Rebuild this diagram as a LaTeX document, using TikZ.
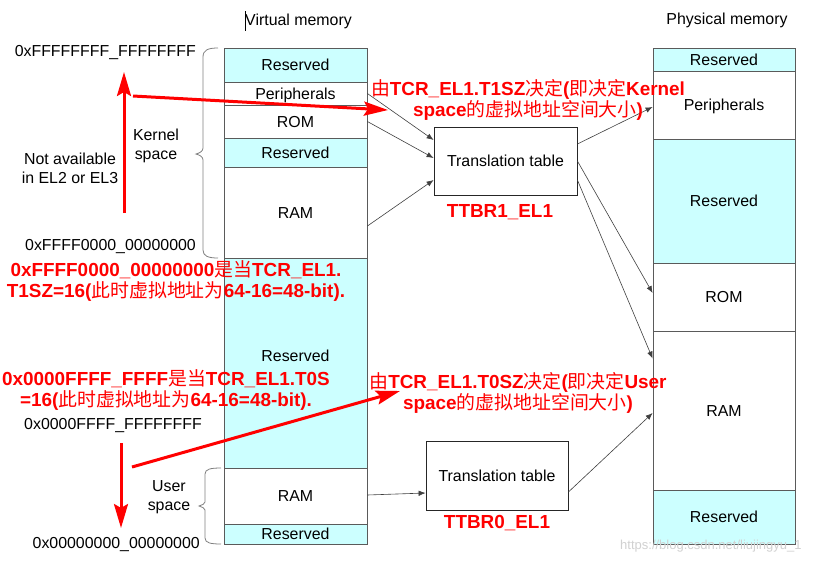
\documentclass[tikz,border=0pt]{standalone}
\usepackage{fontspec}
\setmainfont{Liberation Sans}
\newfontfamily\cjk{Noto Sans CJK SC}
\usetikzlibrary{arrows.meta,calc}
\newcommand\zh[1]{{\cjk\mdseries #1}}
\newcommand\blkfont{\fontsize{15.9}{18.8}\selectfont}
\newcommand\redfont{\fontsize{18.9}{21}\selectfont\bfseries}
\definecolor{memcyan}{HTML}{CCFFFF}
\definecolor{memline}{HTML}{5A5A5A}
\definecolor{redtx}{HTML}{FF0000}
\begin{document}
\begin{tikzpicture}[x=1pt,y=-1pt,
  mem/.style={draw=memline, line width=0.8pt, fill=white, inner sep=0pt,
    font=\blkfont, text height=11.4pt, text depth=0pt},
  vmem/.style={mem, minimum width=143pt},
  pmem/.style={mem, minimum width=142pt},
  cy/.style={fill=memcyan},
  lbl/.style={font=\blkfont, inner sep=0pt, text height=11.4pt, text depth=0pt},
  mlbl/.style={font=\blkfont, inner sep=0pt, align=center},
  ttbox/.style={draw=black!85, line width=0.8pt, fill=white, inner sep=0pt,
    font=\blkfont, text height=11.4pt, text depth=0pt},
  conn/.style={draw=black!75, line width=0.6pt, -{Latex[length=7pt,width=5.5pt]}},
  brc/.style={draw=black!50, line width=0.8pt},
  redtxt/.style={text=redtx, font=\redfont, align=center, inner sep=0pt},
  redarrow/.style={draw=redtx, line width=3pt, -{Stealth[length=24pt,width=14pt,inset=4pt]}}
]
\fill[white] (0,0) rectangle (814,566);
\useasboundingbox (0,0) rectangle (814,566);

% titles
\draw[black, line width=0.8pt] (245,11) -- (245,31);
\node[lbl] (vtitle) at (298.5,20) {Virtual memory};
\node[lbl] (ptitle) at (727,19) {Physical memory};

% virtual memory
\node[vmem,cy,minimum height=34pt]  (v1) at (295.5,65)    {Reserved};
\node[vmem,minimum height=23pt]     (v2) at (295.5,93.5)  {Peripherals};
\node[vmem,minimum height=33pt]     (v3) at (295.5,121.5) {ROM};
\node[vmem,cy,minimum height=29pt]  (v4) at (295.5,152.5) {Reserved};
\node[vmem,minimum height=91pt]     (v5) at (295.5,212.5) {RAM};
\node[vmem,cy,minimum height=210pt] (v6) at (295.5,363)   {};
\node[lbl] (v6t) at (295.5,356) {Reserved};
\node[vmem,minimum height=56pt]     (v7) at (295.5,496)   {RAM};
\node[vmem,cy,minimum height=20pt]  (v8) at (295.5,534)   {Reserved};

% physical memory
\node[pmem,cy,minimum height=23pt]  (p1) at (724,59.5)  {Reserved};
\node[pmem,minimum height=68pt]     (p2) at (724,105)   {Peripherals};
\node[pmem,cy,minimum height=124pt] (p3) at (724,201)   {Reserved};
\node[pmem,minimum height=68pt]     (p4) at (724,297)   {ROM};
\node[pmem,minimum height=159pt]    (p5) at (724,410.5) {RAM};
\node[pmem,cy,minimum height=54pt]  (p6) at (724,517)   {Reserved};

% translation tables
\node[ttbox,minimum width=143pt,minimum height=68pt] (tt1) at (505.5,161)   {Translation table};
\node[ttbox,minimum width=142pt,minimum height=69pt] (tt2) at (497,475.5)   {Translation table};

% connectors
\draw[conn] (v2.east) -- ($(tt1.west)+(0,-21)$);
\draw[conn] (v3.east) -- ($(tt1.west)+(0,-3)$);
\draw[conn] ($(v5.east)+(0,13.5)$) -- ($(tt1.west)+(0,19)$);
\draw[conn] ($(tt1.east)+(0,-17)$) -- ($(p2.west)+(0,2)$);
\draw[conn] (tt1.east) -- ($(p4.west)+(0,-4)$);
\draw[conn] ($(tt1.east)+(0,19)$) -- ($(p5.west)+(0,-52)$);
\draw[conn] ($(v7.east)+(0,-1)$) -- ($(tt2.west)+(0,17.5)$);
\draw[conn] ($(tt2.east)+(0,16.5)$) -- ($(p5.west)+(0,2.5)$);

% braces
\draw[brc] (218,48) .. controls (208,48) and (203,50) .. (203,57) -- (203,148)
  .. controls (203,151) and (200,153) .. (196,154)
  .. controls (200,155) and (203,157) .. (203,160) -- (203,250)
  .. controls (203,256) and (208,258) .. (218,258);
\draw[brc] (221,468) .. controls (211,468) and (205,469) .. (205,474) -- (205,502)
  .. controls (205,504) and (202,505) .. (199,506)
  .. controls (202,507) and (205,508) .. (205,510) -- (205,538)
  .. controls (205,543) and (211,544) .. (221,544);

% black labels
\node[lbl,anchor=east] (a1) at (196,51)  {0xFFFFFFFF\_FFFFFFFF};
\node[lbl,anchor=east] (a2) at (196,245) {0xFFFF0000\_00000000};
\node[lbl,anchor=east] (a3) at (202,424) {0x0000FFFF\_FFFFFFFF};
\node[lbl,anchor=east] (a4) at (200,543) {0x00000000\_00000000};
\node[mlbl] (na) at (70,168)  {Not available\\in EL2 or EL3};
\node[mlbl] (ks) at (156,146) {Kernel\\space};
\node[mlbl] (us) at (169,497) {User\\space};

% red labels
\node[redtxt] (ttbr1) at (500,212) {TTBR1\_EL1};
\node[redtxt] (ttbr0) at (497,523) {TTBR0\_EL1};
\node[redtxt] (r1) at (528,99.5) {\zh{由}TCR\_EL1.T1SZ\zh{决定}(\zh{即决定}Kernel\\space\zh{的虚拟地址空间大小})};
\node[redtxt] (r2) at (176,281.5) {0xFFFF0000\_00000000\zh{是当}TCR\_EL1.\\T1SZ=16(\zh{此时虚拟地址为}64-16=48-bit).};
\node[redtxt] (r3) at (166,390.5) {0x0000FFFF\_FFFF\zh{是当}TCR\_EL1.T0S\\=16(\zh{此时虚拟地址为}64-16=48-bit).};
\node[redtxt] (r4) at (518,393) {\zh{由}TCR\_EL1.T0SZ\zh{决定}(\zh{即决定}User\\space\zh{的虚拟地址空间大小})};

% red arrows
\coordinate (ka0) at (124,213); \coordinate (ka1) at (124,72);
\coordinate (kb0) at (133,96);  \coordinate (kb1) at (388,110);
\coordinate (ua0) at (121,443); \coordinate (ua1) at (121,528);
\coordinate (ub0) at (132,467); \coordinate (ub1) at (400,391);
\draw[redarrow] (ka0) -- (ka1);
\draw[redarrow] (kb0) -- (kb1);
\draw[redarrow] (ua0) -- (ua1);
\draw[redarrow] (ub0) -- (ub1);

% watermark
\node[anchor=west, text=black!18, font=\fontsize{13}{15}\selectfont, inner sep=0pt] (wm) at (620,546) {https://blog.csdn.net/liujingyu\_1};
\end{tikzpicture}
\end{document}
